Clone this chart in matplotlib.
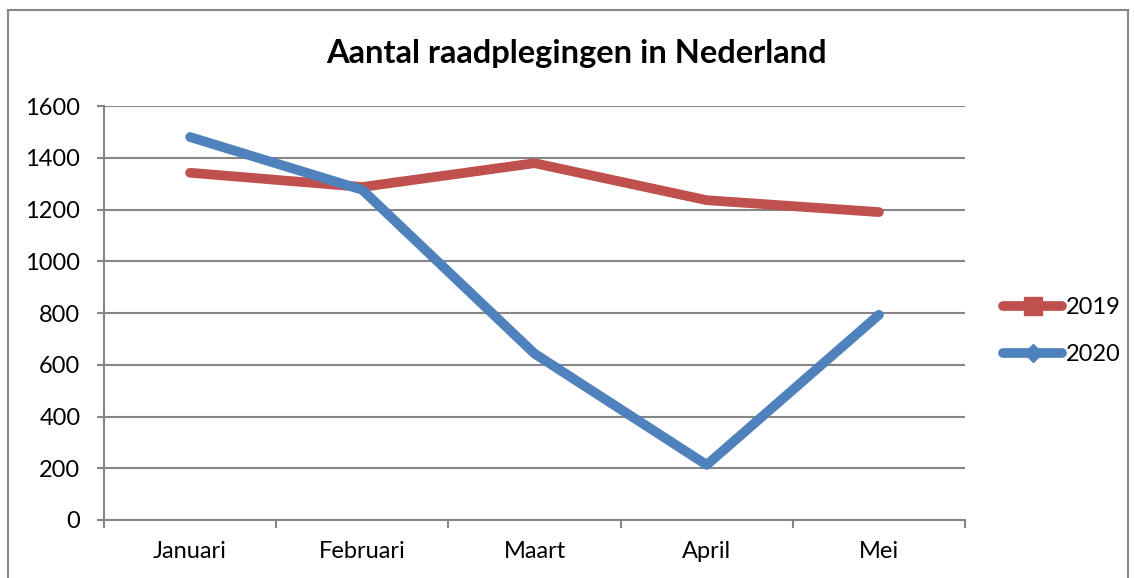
import matplotlib.pyplot as plt
from matplotlib.lines import Line2D
from matplotlib.patches import Rectangle

maanden = ['Januari', 'Februari', 'Maart', 'April', 'Mei']
jaar_2019 = [1342, 1287, 1379, 1236, 1190]
jaar_2020 = [1480, 1276, 643, 213, 793]
yticks = [0, 200, 400, 600, 800, 1000, 1200, 1400, 1600]

red = '#C0504D'
blue = '#4F81BD'
grey = '#868686'

plt.rcParams['font.family'] = ['Lato', 'DejaVu Sans']

W, H = 1134, 578
fig = plt.figure(figsize=(W / 100, H / 100), dpi=100)
ax = fig.add_axes([104 / W, 1 - 520 / H, (965 - 104) / W, (520 - 106) / H])

# outer frame
fig.patches.append(Rectangle((8 / W, -0.05), (1128 - 8) / W, 1.05 - 10 / H,
                             transform=fig.transFigure, fill=False,
                             edgecolor=grey, linewidth=1.5))

x = range(len(maanden))
ax.plot(x, jaar_2019, color=red, lw=7, solid_capstyle='round',
        solid_joinstyle='round', zorder=3)
ax.plot(x, jaar_2020, color=blue, lw=7, solid_capstyle='round',
        solid_joinstyle='round', zorder=4)

ax.set_xlim(-0.5, 4.5)
ax.set_ylim(0, 1600)
ax.set_yticks(yticks)
ax.set_yticklabels([str(v) for v in yticks], fontsize=17)
ax.set_xticks([i for i in x])
ax.set_xticklabels(maanden, fontsize=17)
ax.tick_params(axis='x', length=0, pad=15)
ax.tick_params(axis='y', length=5, width=1.5, color=grey, pad=12)
# category boundary ticks on x axis
ax.set_xticks([i - 0.5 for i in range(len(maanden) + 1)], minor=True)
ax.tick_params(axis='x', which='minor', length=6, width=1.5, color=grey)

ax.grid(axis='y', color=grey, linewidth=1.5)
ax.set_axisbelow(True)
for s in ['top', 'right']:
    ax.spines[s].set_visible(False)
for s in ['left', 'bottom']:
    ax.spines[s].set_color(grey)
    ax.spines[s].set_linewidth(1.5)

fig.text(576 / W, 1 - 53 / H, 'Aantal raadplegingen in Nederland',
         ha='center', va='center', fontsize=23.5, fontweight='bold')

handles = [
    Line2D([], [], color=red, lw=7, marker='s', markersize=13,
           solid_capstyle='round'),
    Line2D([], [], color=blue, lw=7, marker='D', markersize=9,
           solid_capstyle='round'),
]
fig.legend(handles, ['2019', '2020'], loc='center left',
           bbox_to_anchor=(982 / W, 1 - 331 / H), frameon=False,
           fontsize=17, handlelength=2.5, handletextpad=0.15,
           labelspacing=1.1)

fig.savefig('out.png', dpi=100)
